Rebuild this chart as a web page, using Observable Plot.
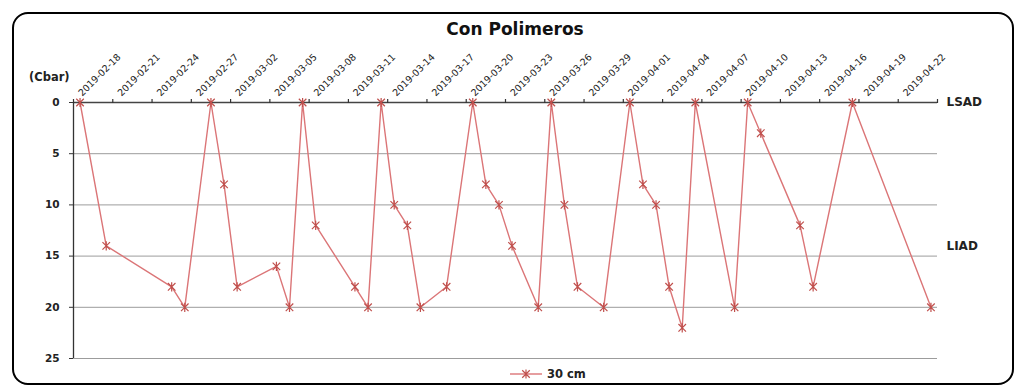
<!DOCTYPE html>
<html>
<head>
<meta charset="utf-8">
<script src="https://cdn.jsdelivr.net/npm/d3@7"></script>
<script src="https://cdn.jsdelivr.net/npm/@observablehq/plot@0.6"></script>
<style>
  body { margin: 0; background: #fff; width: 1022px; height: 392px; position: relative; overflow: hidden; font-family: "DejaVu Sans", sans-serif; }
  #frame { position: absolute; left: 12px; top: 12px; width: 1002px; height: 373px; box-sizing: border-box; border: 2.5px solid #000; border-radius: 16px; }
  #title { position: absolute; left: 0; top: 18px; width: 1030px; text-align: center; font: bold 17px "DejaVu Sans"; color: #111; line-height: 22px; }
  #unit { position: absolute; left: 29px; top: 70px; font: bold 11.5px "DejaVu Sans"; color: #222; }
  #chart { position: absolute; left: 0; top: 40px; }
  #legend { position: absolute; left: 508px; top: 366px; display: flex; align-items: center; font: bold 11.5px "DejaVu Sans"; color: #222; }
</style>
</head>
<body>
<div id="frame"></div>
<div id="title">Con Polimeros</div>
<div id="unit">(Cbar)</div>
<div id="chart"></div>
<div id="legend"></div>
<script>
// ---- data ----
const seriesName = "30 cm";
const dates = ["2019-02-18","2019-02-20","2019-02-25","2019-02-26","2019-02-28","2019-03-01","2019-03-02","2019-03-05","2019-03-06","2019-03-07","2019-03-08","2019-03-11","2019-03-12","2019-03-13","2019-03-14","2019-03-15","2019-03-16","2019-03-18","2019-03-20","2019-03-21","2019-03-22","2019-03-23","2019-03-25","2019-03-26","2019-03-27","2019-03-28","2019-03-30","2019-04-01","2019-04-02","2019-04-03","2019-04-04","2019-04-05","2019-04-06","2019-04-09","2019-04-10","2019-04-11","2019-04-14","2019-04-15","2019-04-18","2019-04-24"];
const values = [0,14,18,20,0,8,18,16,20,0,12,18,20,0,10,12,20,18,0,8,10,14,20,0,10,18,20,0,8,10,18,22,0,20,0,3,12,18,0,20];
const yTicks = [0,5,10,15,20,25];
const thresholdNames = ["LSAD","LIAD"];
const thresholdValues = [0,14];
const axisStart = "2019-02-18";
const axisEnd = "2019-04-25";
const tickStepDays = 3;

// ---- build ----
const DAY = 864e5;
const parse = s => new Date(s + "T00:00:00Z");
const x0 = parse(axisStart), x1 = parse(axisEnd);
const data = dates.map((d, i) => ({date: new Date(+parse(d) + DAY / 2), value: values[i]}));
const boundaries = d3.range(+x0, +x1 + 1, tickStepDays * DAY).map(t => new Date(t));
const labelDates = boundaries.slice(0, -1).map(d => new Date(+d + DAY / 2));
const fmt = d3.utcFormat("%Y-%m-%d");
const thresholds = thresholdNames.map((n, i) => ({name: n, value: thresholdValues[i]}));

const star = {
  draw(ctx, size) {
    const r = Math.sqrt(size / Math.PI);
    const d = r * 0.82;
    ctx.moveTo(0, -r); ctx.lineTo(0, r);
    ctx.moveTo(-d, -d); ctx.lineTo(d, d);
    ctx.moveTo(-d, d); ctx.lineTo(d, -d);
  }
};

const lineColor = "#db7577";
const markColor = "#c0504d";

const plot = Plot.plot({
  width: 1022,
  height: 330,
  marginLeft: 73,
  marginRight: 85,
  marginTop: 62,
  marginBottom: 12,
  style: {fontFamily: "DejaVu Sans", color: "#222", background: "transparent"},
  x: {type: "utc", domain: [x0, x1]},
  y: {domain: [0, 25], reverse: true},
  marks: [
    Plot.gridY(yTicks.filter(v => v > 0), {stroke: "#9c9c9c", strokeOpacity: 1, strokeWidth: 1}),
    Plot.ruleY([0], {stroke: "#444", strokeWidth: 1.3}),
    Plot.ruleX([x0], {stroke: "#333", strokeWidth: 1.3}),
    Plot.axisY({ticks: yTicks, tickSize: 4, tickPadding: 10, fontWeight: "bold", fontSize: 10.5, label: null, stroke: "#333"}),
    Plot.axisX({anchor: "top", ticks: boundaries, tickSize: 4, tickFormat: () => "", label: null, stroke: "#333", strokeWidth: 1.2}),
    Plot.axisX({anchor: "top", ticks: labelDates, tickSize: 0, tickPadding: 8, tickRotate: -45, tickFormat: fmt, fontSize: 9.5, label: null, fill: "#222"}),
    Plot.line(data, {x: "date", y: "value", stroke: lineColor, strokeWidth: 1.4}),
    Plot.dot(data, {x: "date", y: "value", symbol: star, r: 4.6, stroke: markColor, strokeWidth: 1.2, fill: "none"}),
    Plot.text(thresholds, {x: () => x1, y: "value", text: "name", dx: 9, textAnchor: "start", fontWeight: "bold", fontSize: 12, fill: "#222"})
  ]
});
document.getElementById("chart").appendChild(plot);

// legend
document.getElementById("legend").innerHTML =
  `<svg width="36" height="16"><line x1="2" y1="8" x2="34" y2="8" stroke="${lineColor}" stroke-width="1.4"/>` +
  `<g transform="translate(18,8)" stroke="${markColor}" stroke-width="1.2"><path d="${(() => { const p = d3.path(); star.draw(p, Math.PI * 4.6 * 4.6); return p.toString(); })()}"/></g></svg>` +
  `<span style="margin-left:3px">${seriesName}</span>`;
</script>
</body>
</html>
